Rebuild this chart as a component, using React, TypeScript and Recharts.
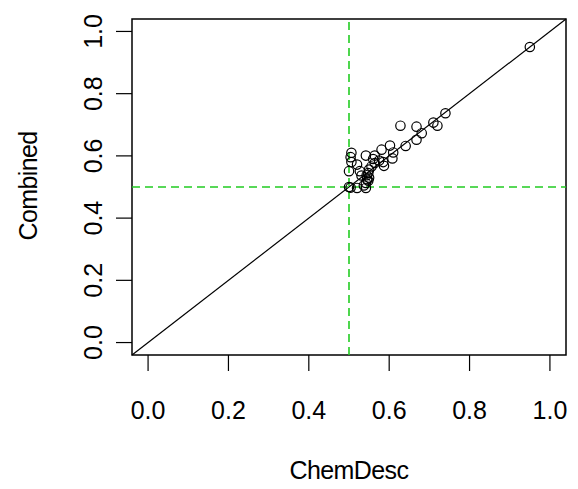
import React from "react";
import {
  ScatterChart,
  Scatter,
  XAxis,
  YAxis,
  ReferenceLine,
  ReferenceArea,
} from "recharts";

const chemDesc = [
  0.95, 0.74, 0.71, 0.72, 0.628, 0.668, 0.681, 0.668, 0.641, 0.602,
  0.61, 0.581, 0.608, 0.585, 0.587, 0.564, 0.542, 0.56, 0.506, 0.504,
  0.506, 0.52, 0.5, 0.527, 0.564, 0.556, 0.55, 0.548, 0.544, 0.531,
  0.545, 0.542, 0.537, 0.5, 0.504, 0.52, 0.542, 0.55, 0.548, 0.575,
];
const combined = [
  0.95, 0.737, 0.707, 0.697, 0.697, 0.694, 0.673, 0.652, 0.632, 0.633,
  0.611, 0.62, 0.592, 0.58, 0.568, 0.601, 0.601, 0.59, 0.61, 0.596,
  0.58, 0.572, 0.551, 0.551, 0.577, 0.566, 0.556, 0.545, 0.538, 0.537,
  0.524, 0.513, 0.505, 0.5, 0.498, 0.497, 0.497, 0.53, 0.52, 0.585,
];
const ticks = [0, 0.2, 0.4, 0.6, 0.8, 1.0];
const tickLabels = ["0.0", "0.2", "0.4", "0.6", "0.8", "1.0"];
const xTitle = "ChemDesc";
const yTitle = "Combined";
const cutoff = 0.5;

const data = chemDesc.map((x, i) => ({ x, y: combined[i] }));

const FONT = "'Liberation Sans', Arial, sans-serif";
const FS = 25;

const XTick = (props: any) => {
  const { x, payload } = props;
  const i = ticks.indexOf(payload.value);
  return (
    <text x={x} y={410} textAnchor="middle" dominantBaseline="central" fontFamily={FONT} fontSize={FS} fill="#000">
      {tickLabels[i]}
    </text>
  );
};

const YTick = (props: any) => {
  const { y, payload } = props;
  const i = ticks.indexOf(payload.value);
  const cx = 93;
  return (
    <text x={cx} y={y} textAnchor="middle" dominantBaseline="central" fontFamily={FONT} fontSize={FS} fill="#000" transform={`rotate(-90, ${cx}, ${y})`}>
      {tickLabels[i]}
    </text>
  );
};

const Dot = (props: any) => {
  const { cx, cy } = props;
  return <circle cx={cx} cy={cy} r={4.7} fill="none" stroke="#000" strokeWidth={1.2} />;
};

export default function App() {
  return (
    <div style={{ position: "absolute", left: 0, top: 0, width: 578, height: 489, background: "#fff" }}>
      <ScatterChart width={578} height={489} margin={{ top: 19, right: 12, bottom: 0, left: 0 }}>
        <XAxis
          type="number"
          dataKey="x"
          domain={[-0.04, 1.04]}
          ticks={ticks}
          axisLine={false}
          tickLine={{ stroke: "#000", strokeWidth: 1.2 }}
          tickSize={16}
          tick={<XTick />}
          height={134}
          allowDataOverflow
          interval={0}
        />
        <YAxis
          type="number"
          dataKey="y"
          domain={[-0.04, 1.04]}
          ticks={ticks}
          axisLine={false}
          tickLine={{ stroke: "#000", strokeWidth: 1.2 }}
          tickSize={16}
          tick={<YTick />}
          width={132}
          allowDataOverflow
          interval={0}
        />
        <ReferenceArea x1={-0.04} x2={1.04} y1={-0.04} y2={1.04} fill="none" stroke="#000" strokeWidth={1.5} ifOverflow="visible" />
        <ReferenceLine segment={[{ x: -0.04, y: -0.04 }, { x: 1.04, y: 1.04 }]} stroke="#000" strokeWidth={1.2} ifOverflow="visible" />
        <ReferenceLine x={cutoff} stroke="#22cc22" strokeWidth={1.6} strokeDasharray="8 5" />
        <ReferenceLine y={cutoff} stroke="#22cc22" strokeWidth={1.6} strokeDasharray="8 5" />
        <Scatter data={data} shape={<Dot />} isAnimationActive={false} />
        <text x={349} y={470} textAnchor="middle" dominantBaseline="central" fontFamily={FONT} fontSize={FS} fill="#000" letterSpacing={-0.6}>
          {xTitle}
        </text>
        <text x={28} y={186} textAnchor="middle" dominantBaseline="central" fontFamily={FONT} fontSize={FS} fill="#000" letterSpacing={-0.6} transform="rotate(-90, 28, 186)">
          {yTitle}
        </text>
      </ScatterChart>
    </div>
  );
}
